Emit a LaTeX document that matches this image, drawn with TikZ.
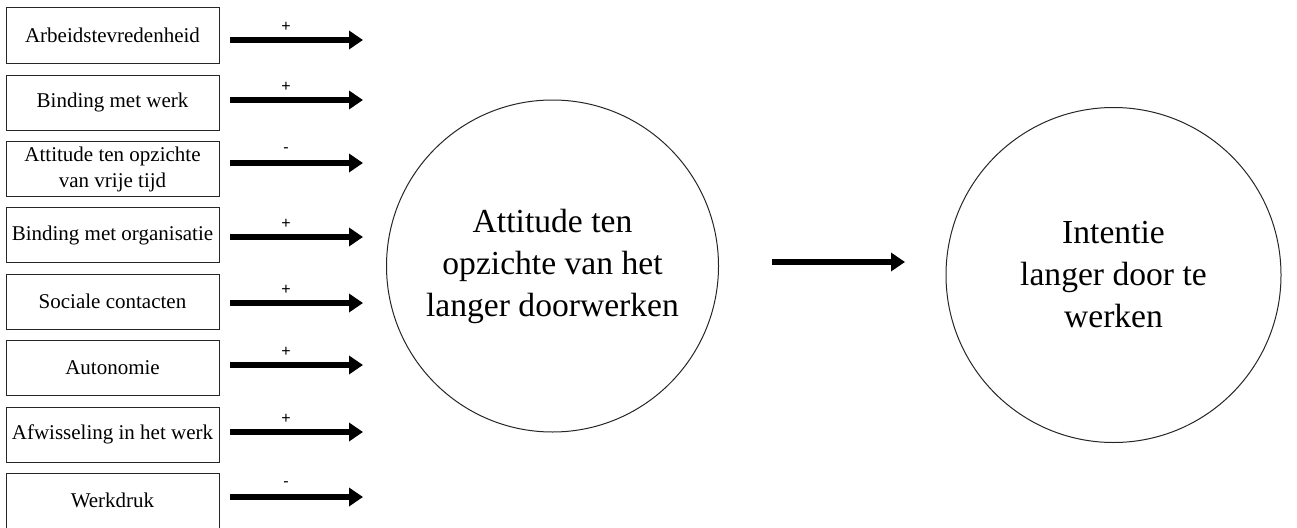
\documentclass[tikz,border=0pt]{standalone}
\usepackage{fontspec}
\setmainfont{Liberation Serif}
\setsansfont{Liberation Sans}
\usetikzlibrary{arrows.meta}
\begin{document}
\begin{tikzpicture}[x=1pt,y=-1pt,
  factor/.style={draw=black!85,line width=1pt,minimum width=213pt,minimum height=55pt,
    inner sep=0pt,align=center,font=\fontsize{21}{26}\selectfont},
  bigcircle/.style={draw=black!85,line width=1pt,circle,inner sep=0pt,align=center,
    font=\fontsize{33.6}{42}\selectfont},
  fatarrow/.style={line width=5.5pt,-{Triangle[length=14pt,width=18pt]}},
  sign/.style={font=\sffamily\fontsize{16}{16}\selectfont,inner sep=0pt}]
\useasboundingbox (0,0) rectangle (1297,527);
% factor boxes
\node[factor] (f1) at (112.5,35.5) {Arbeidstevredenheid};
\node[factor] (f2) at (112.5,102.5) {Binding met werk};
\node[factor] (f3) at (112.5,169) {Attitude ten opzichte\\van vrije tijd};
\node[factor] (f4) at (112.5,235) {Binding met organisatie};
\node[factor] (f5) at (112.5,301.5) {Sociale contacten};
\node[factor] (f6) at (112.5,367.5) {Autonomie};
\node[factor] (f7) at (112.5,434.5) {Afwisseling in het werk};
\node[factor] (f8) at (112.5,500.5) {Werkdruk};
% arrows
\foreach \i/\y/\s in {1/40/+,2/100/+,3/163/-,4/237/+,5/303/+,6/365/+,7/432/+,8/497/-}{
  \coordinate (s\i) at (230,\y);
  \coordinate (e\i) at (363,\y);
  \draw[fatarrow] (s\i) -- (e\i);
  \node[sign] (l\i) at (286,\y-13) {\s};
}
% circles
\node[bigcircle,minimum size=332pt] (att) at (552.5,266) {Attitude ten\\opzichte van het\\langer doorwerken};
\node[bigcircle,minimum size=335pt] (int) at (1113.5,275) {Intentie\\langer door te\\werken};
\coordinate (ms) at (772,262);
\coordinate (me) at (905,262);
\draw[fatarrow] (ms) -- (me);
\end{tikzpicture}
\end{document}
